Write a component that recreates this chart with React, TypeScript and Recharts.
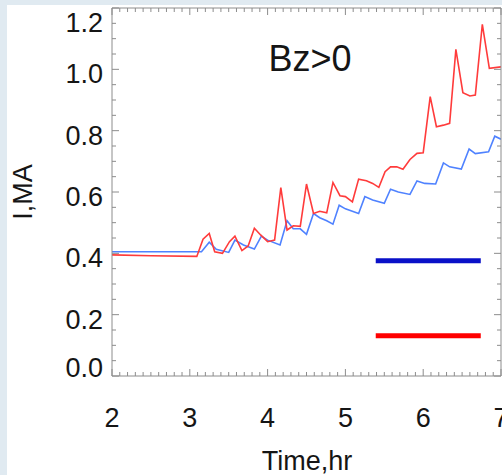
import React from "react";
import { LineChart, Line, XAxis, YAxis } from "recharts";

// Current I (MA) vs time (hr), two runs
const blueTime = [
  2.0, 3.15, 3.25, 3.34, 3.5, 3.58, 3.69, 3.83, 3.92, 4.0, 4.16, 4.25, 4.33,
  4.42, 4.5, 4.59, 4.67, 4.76, 4.84, 4.92, 5.0, 5.17, 5.25, 5.35, 5.5, 5.58,
  5.68, 5.83, 5.92, 6.02, 6.16, 6.26, 6.34, 6.49, 6.59, 6.67, 6.84, 6.92, 7.0,
];
const blueCurrent = [
  0.405, 0.405, 0.436, 0.413, 0.403, 0.443, 0.427, 0.414, 0.456, 0.443, 0.427,
  0.506, 0.48, 0.48, 0.462, 0.53, 0.516, 0.506, 0.495, 0.557, 0.545, 0.53,
  0.585, 0.574, 0.563, 0.609, 0.6, 0.592, 0.636, 0.628, 0.626, 0.695, 0.682,
  0.675, 0.74, 0.725, 0.731, 0.782, 0.772,
];

const redTime = [
  2.0, 2.5, 3.09, 3.17, 3.25, 3.32, 3.42, 3.51, 3.58, 3.67, 3.75, 3.83, 3.91,
  4.0, 4.09, 4.17, 4.25, 4.33, 4.42, 4.5, 4.59, 4.67, 4.76, 4.84, 4.93, 5.0,
  5.09, 5.17, 5.27, 5.35, 5.43, 5.51, 5.58, 5.66, 5.74, 5.83, 5.92, 6.0, 6.09,
  6.17, 6.26, 6.34, 6.42, 6.51, 6.6, 6.67, 6.76, 6.85, 7.0,
];
const redCurrent = [
  0.395, 0.392, 0.39, 0.446, 0.465, 0.405, 0.4, 0.438, 0.456, 0.409, 0.424,
  0.482, 0.46, 0.438, 0.443, 0.614, 0.476, 0.49, 0.488, 0.626, 0.53, 0.537,
  0.532, 0.631, 0.588, 0.585, 0.568, 0.642, 0.637, 0.628, 0.615, 0.666, 0.682,
  0.682, 0.674, 0.706, 0.726, 0.728, 0.911, 0.813, 0.818, 0.824, 1.065, 0.924,
  0.913, 0.916, 1.147, 1.003, 1.008,
];

// legend bars
const keyTime = [5.39, 6.74];
const blueKeyLevel = 0.376;
const redKeyLevel = 0.131;

const xMajorTicks = [2, 3, 4, 5, 6, 7];
const yMajorTicks = [0, 0.2, 0.4, 0.6, 0.8, 1.0, 1.2];

const xTicks: number[] = [];
for (let i = 0; i <= 50; i++) xTicks.push(Math.round((2 + i / 10) * 10) / 10);
const yTicks: number[] = [];
for (let i = 0; i <= 24; i++) yTicks.push(Math.round(i * 5) / 100);

const toPoints = (ts: number[], vs: number[]) =>
  ts.map((t, i) => ({ t, v: vs[i] }));

const blueData = toPoints(blueTime, blueCurrent);
const redData = toPoints(redTime, redCurrent);
const blueKey = keyTime.map((t) => ({ t, v: blueKeyLevel }));
const redKey = keyTime.map((t) => ({ t, v: redKeyLevel }));

const AXIS = "#8c8c8c";
const INK = "#151515";
const FONT = "'Liberation Sans', Arial, sans-serif";
const PLOT_TOP = 8;
const PLOT_BOTTOM = 376;

const near = (a: number, list: number[]) => list.some((m) => Math.abs(a - m) < 1e-6);

const XTick = (props: any) => {
  const { x, y, payload, side } = props;
  const major = near(payload.value, xMajorTicks);
  const len = major ? 7 : 4;
  const dir = side === "bottom" ? -1 : 1;
  return (
    <g>
      <line x1={x} x2={x} y1={y} y2={y + dir * len} stroke={AXIS} strokeWidth={1} />
      {side === "bottom" && major && (
        <text x={x} y={y + 51} textAnchor="middle" fontSize={27} fontFamily={FONT} fill={INK}>
          {Math.round(payload.value)}
        </text>
      )}
    </g>
  );
};

const YTick = (props: any) => {
  const { x, y, payload, side } = props;
  const major = near(payload.value, yMajorTicks);
  const len = major ? 7 : 4;
  const dir = side === "left" ? 1 : -1;
  const base = Math.min(Math.max(y + 14, PLOT_TOP + 24), PLOT_BOTTOM + 1);
  return (
    <g>
      <line x1={x} x2={x + dir * len} y1={y} y2={y} stroke={AXIS} strokeWidth={1} />
      {side === "left" && major && (
        <text x={x - 9} y={base} textAnchor="end" fontSize={27} fontFamily={FONT} fill={INK}>
          {payload.value.toFixed(1)}
        </text>
      )}
    </g>
  );
};

export default function App() {
  return (
    <div
      style={{
        position: "absolute",
        left: 0,
        top: 0,
        width: 502,
        height: 475,
        background: "#e0eaf1",
        overflow: "hidden",
      }}
    >
      <div
        style={{
          position: "absolute",
          left: 7,
          top: 5,
          right: 0,
          bottom: 0,
          background: "#ffffff",
        }}
      />
      <div style={{ position: "absolute", left: 0, top: 0 }}>
        <LineChart
          width={502}
          height={475}
          margin={{ top: 7, right: 0, bottom: 0, left: 12 }}
        >
          <XAxis
            xAxisId="bottom"
            dataKey="t"
            type="number"
            domain={[2, 7]}
            allowDataOverflow
            ticks={xTicks}
            interval={0}
            height={99}
            tickSize={0}
            tickMargin={0}
            tickLine={false}
            axisLine={{ stroke: AXIS }}
            tick={<XTick side="bottom" />}
          />
          <XAxis
            xAxisId="top"
            orientation="top"
            dataKey="t"
            type="number"
            domain={[2, 7]}
            allowDataOverflow
            ticks={xTicks}
            interval={0}
            height={1}
            tickSize={0}
            tickMargin={0}
            tickLine={false}
            axisLine={{ stroke: AXIS }}
            tick={<XTick side="top" />}
          />
          <YAxis
            yAxisId="left"
            type="number"
            domain={[0, 1.2]}
            allowDataOverflow
            ticks={yTicks}
            interval={0}
            width={100}
            tickSize={0}
            tickMargin={0}
            tickLine={false}
            axisLine={{ stroke: AXIS }}
            tick={<YTick side="left" />}
          />
          <YAxis
            yAxisId="right"
            orientation="right"
            type="number"
            domain={[0, 1.2]}
            allowDataOverflow
            ticks={yTicks}
            interval={0}
            width={1}
            tickSize={0}
            tickMargin={0}
            tickLine={false}
            axisLine={{ stroke: AXIS }}
            tick={<YTick side="right" />}
          />

          <Line
            data={blueData}
            xAxisId="bottom"
            yAxisId="left"
            dataKey="v"
            type="linear"
            stroke="#4f82ff"
            strokeWidth={1.6}
            dot={false}
            isAnimationActive={false}
          />
          <Line
            data={redData}
            xAxisId="bottom"
            yAxisId="left"
            dataKey="v"
            type="linear"
            stroke="#ff3b3b"
            strokeWidth={1.6}
            dot={false}
            isAnimationActive={false}
          />
          <Line
            data={blueKey}
            xAxisId="bottom"
            yAxisId="left"
            dataKey="v"
            type="linear"
            stroke="#0a10c8"
            strokeWidth={5}
            strokeLinecap="butt"
            dot={false}
            isAnimationActive={false}
          />
          <Line
            data={redKey}
            xAxisId="bottom"
            yAxisId="left"
            dataKey="v"
            type="linear"
            stroke="#ff0000"
            strokeWidth={5}
            strokeLinecap="butt"
            dot={false}
            isAnimationActive={false}
          />

          <text x={310} y={71} textAnchor="middle" fontSize={36} fontFamily={FONT} fill={INK}>
            Bz&gt;0
          </text>
          <text x={307} y={470} textAnchor="middle" fontSize={27} fontFamily={FONT} fill={INK}>
            Time,hr
          </text>
          <text
            x={32}
            y={192}
            textAnchor="middle"
            fontSize={27}
            fontFamily={FONT}
            fill={INK}
            transform="rotate(-90 32 192)"
          >
            I,MA
          </text>
        </LineChart>
      </div>
    </div>
  );
}
